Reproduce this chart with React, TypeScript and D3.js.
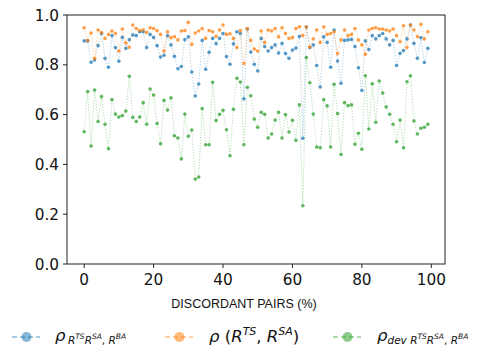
import React from "react";
import * as d3 from "d3";

const blueVals = [
  0.896, 0.896, 0.81, 0.819, 0.877, 0.926, 0.826, 0.79, 0.917, 0.869,
  0.814, 0.91, 0.866, 0.901, 0.92, 0.917, 0.933, 0.933, 0.869, 0.922,
  0.91, 0.877, 0.831, 0.838, 0.917, 0.88, 0.834, 0.784, 0.793, 0.901,
  0.912, 0.771, 0.675, 0.723, 0.898, 0.782, 0.85, 0.906, 0.885, 0.906,
  0.926, 0.833, 0.802, 0.884, 0.933, 0.926, 0.663, 0.944, 0.851, 0.802,
  0.775, 0.906, 0.873, 0.855, 0.869, 0.88, 0.847, 0.886, 0.845, 0.826,
  0.859, 0.867, 0.914, 0.505, 0.952, 0.869, 0.88, 0.797, 0.711, 0.912,
  0.89, 0.79, 0.94, 0.815, 0.726, 0.898, 0.9, 0.902, 0.873, 0.788,
  0.697, 0.896, 0.861, 0.917, 0.904, 0.917, 0.926, 0.904, 0.88, 0.898,
  0.797, 0.846, 0.857, 0.904, 0.96, 0.886, 0.826, 0.909, 0.809, 0.866,
];

const orangeVals = [
  0.949, 0.898, 0.928, 0.826, 0.94, 0.93, 0.906, 0.922, 0.936, 0.926,
  0.855, 0.944, 0.888, 0.87, 0.96, 0.946, 0.938, 0.941, 0.93, 0.949,
  0.946, 0.937, 0.922, 0.855, 0.933, 0.909, 0.913, 0.9, 0.936, 0.938,
  0.971, 0.882, 0.928, 0.936, 0.946, 0.906, 0.938, 0.933, 0.914, 0.94,
  0.96, 0.922, 0.925, 0.906, 0.869, 0.938, 0.805, 0.946, 0.898, 0.863,
  0.855, 0.936, 0.89, 0.94, 0.936, 0.946, 0.912, 0.949, 0.926, 0.906,
  0.909, 0.946, 0.953, 0.917, 0.952, 0.871, 0.904, 0.94, 0.89, 0.953,
  0.922, 0.926, 0.933, 0.845, 0.9, 0.94, 0.917, 0.922, 0.946, 0.9,
  0.88, 0.842, 0.94, 0.946, 0.949, 0.944, 0.944, 0.94, 0.936, 0.944,
  0.917, 0.893, 0.957, 0.869, 0.96, 0.94, 0.913, 0.963, 0.904, 0.933,
];

const greenVals = [
  0.531, 0.693, 0.474, 0.699, 0.572, 0.672, 0.561, 0.463, 0.66, 0.602,
  0.59, 0.596, 0.614, 0.754, 0.589, 0.572, 0.59, 0.648, 0.561, 0.703,
  0.679, 0.564, 0.483, 0.657, 0.618, 0.667, 0.515, 0.506, 0.422, 0.602,
  0.513, 0.538, 0.341, 0.349, 0.624, 0.479, 0.479, 0.73, 0.576, 0.601,
  0.617, 0.539, 0.435, 0.621, 0.746, 0.731, 0.479, 0.71, 0.676, 0.582,
  0.549, 0.609, 0.601, 0.506, 0.522, 0.578, 0.609, 0.506, 0.6, 0.53,
  0.577, 0.497, 0.639, 0.234, 0.829, 0.728, 0.602, 0.47, 0.467, 0.66,
  0.635, 0.47, 0.722, 0.604, 0.44, 0.648, 0.636, 0.639, 0.481, 0.525,
  0.461, 0.756, 0.542, 0.724, 0.569, 0.735, 0.687, 0.631, 0.601, 0.561,
  0.491, 0.578, 0.467, 0.732, 0.756, 0.574, 0.522, 0.545, 0.549, 0.561,
];

const xTicks = [0, 20, 40, 60, 80, 100];
const yTicks = [0, 0.2, 0.4, 0.6, 0.8, 1.0];
const xLabel = "DISCORDANT PAIRS (%)";

const seriesList = [
  { name: "blue", color: "#1f77b4", values: blueVals },
  { name: "orange", color: "#ff7f0e", values: orangeVals },
  { name: "green", color: "#2ca02c", values: greenVals },
];

const W = 488;
const H = 351;
const L = 67, R = 445, T = 15, B = 264;

export default function App() {
  const n = blueVals.length;
  const x = d3.scaleLinear().domain([-0.05 * (n - 1), (n - 1) * 1.05]).range([L, R]);
  const y = d3.scaleLinear().domain([0, 1]).range([B, T]);
  const line = d3
    .line<number>()
    .x((_, i) => x(i))
    .y((d) => y(d));

  const tickFont = "DejaVu Sans, sans-serif";
  const mathFont = "DejaVu Sans, sans-serif";

  const legendY = 337;
  const legendItems = [
    { color: "#1f77b4", x0: 12 },
    { color: "#ff7f0e", x0: 165 },
    { color: "#2ca02c", x0: 333 },
  ];

  return (
    <div style={{ position: "fixed", left: 0, top: 0 }}>
      <svg width={W} height={H} style={{ display: "block", background: "#fff" }}>
        {seriesList.map((s) => (
          <g key={s.name}>
            <path
              d={line(s.values) || ""}
              fill="none"
              stroke={s.color}
              strokeWidth={0.8}
              strokeDasharray="1.2,1.6"
              opacity={0.45}
            />
            {s.values.map((v, i) => (
              <circle key={i} cx={x(i)} cy={y(v)} r={1.8} fill={s.color} opacity={0.75} />
            ))}
          </g>
        ))}
        <rect x={L} y={T} width={R - L} height={B - T} fill="none" stroke="#222" strokeWidth={1} />
        {xTicks.map((t) => (
          <g key={"x" + t}>
            <line x1={x(t)} x2={x(t)} y1={B} y2={B + 4} stroke="#222" strokeWidth={1} />
            <text x={x(t)} y={285} textAnchor="middle" fontFamily={tickFont} fontSize={15.3} fill="#111">
              {t}
            </text>
          </g>
        ))}
        {yTicks.map((t) => (
          <g key={"y" + t}>
            <line x1={L - 4} x2={L} y1={y(t)} y2={y(t)} stroke="#222" strokeWidth={1} />
            <text
              x={L - 8}
              y={y(t)}
              dy="0.36em"
              textAnchor="end"
              fontFamily={tickFont}
              fontSize={15.3}
              fill="#111"
            >
              {t.toFixed(1)}
            </text>
          </g>
        ))}
        <text x={244} y={308} textAnchor="middle" fontFamily="Liberation Sans, Arial, sans-serif" fontSize={12.5} fill="#111">
          {xLabel}
        </text>

        {legendItems.map((it, i) => (
          <g key={"lg" + i}>
            <line
              x1={it.x0}
              x2={it.x0 + 28}
              y1={legendY}
              y2={legendY}
              stroke={it.color}
              strokeWidth={1.5}
              strokeDasharray="5,3"
              opacity={0.5}
            />
            <circle cx={it.x0 + 14.5} cy={legendY} r={5} fill={it.color} opacity={0.55} />
          </g>
        ))}
        <text x={55} y={341} fontFamily={mathFont} fill="#111">
          <tspan fontStyle="italic" fontSize={16.5}>ρ</tspan>
          <tspan fontStyle="italic" fontSize={10.5} dx={2.5} dy={3}>R</tspan>
          <tspan fontStyle="italic" fontSize={7.5} dy={-5}>TS</tspan>
          <tspan fontStyle="italic" fontSize={10.5} dy={5}>R</tspan>
          <tspan fontStyle="italic" fontSize={7.5} dy={-5}>SA</tspan>
          <tspan fontSize={10.5} dy={5}>, </tspan>
          <tspan fontStyle="italic" fontSize={10.5}>R</tspan>
          <tspan fontStyle="italic" fontSize={7.5} dy={-5}>BA</tspan>
        </text>
        <text x={209} y={342} fontFamily={mathFont} fill="#111" fontSize={16.5}>
          <tspan fontStyle="italic">ρ</tspan>
          <tspan> (</tspan>
          <tspan fontStyle="italic">R</tspan>
          <tspan fontStyle="italic" fontSize={11} dy={-7}>TS</tspan>
          <tspan dy={7}>,  </tspan>
          <tspan fontStyle="italic">R</tspan>
          <tspan fontStyle="italic" fontSize={11} dy={-7}>SA</tspan>
          <tspan dy={7}>)</tspan>
        </text>
        <text x={377} y={341} fontFamily={mathFont} fill="#111">
          <tspan fontStyle="italic" fontSize={16.5}>ρ</tspan>
          <tspan fontStyle="italic" fontSize={10.5} dy={3}>dev </tspan>
          <tspan fontStyle="italic" fontSize={10.5}>R</tspan>
          <tspan fontStyle="italic" fontSize={7.5} dy={-5}>TS</tspan>
          <tspan fontStyle="italic" fontSize={10.5} dy={5}>R</tspan>
          <tspan fontStyle="italic" fontSize={7.5} dy={-5}>SA</tspan>
          <tspan fontSize={10.5} dy={5}>, </tspan>
          <tspan fontStyle="italic" fontSize={10.5}>R</tspan>
          <tspan fontStyle="italic" fontSize={7.5} dy={-5}>BA</tspan>
        </text>
      </svg>
    </div>
  );
}
